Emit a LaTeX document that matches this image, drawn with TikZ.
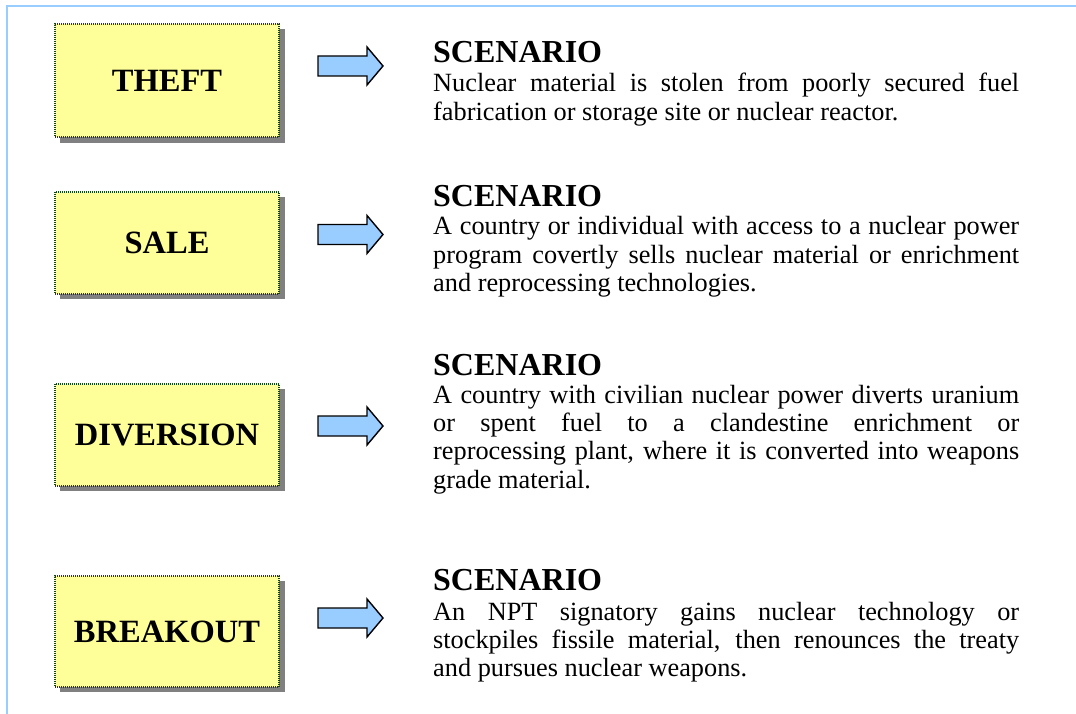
\documentclass[tikz,border=0pt]{standalone}
\usepackage{fontspec}
\setmainfont{Liberation Serif}
\definecolor{frameblue}{RGB}{153,204,255}
\definecolor{boxyellow}{RGB}{255,255,153}
\definecolor{boxgreen}{RGB}{20,70,20}
\definecolor{shadowgray}{RGB}{128,128,128}
\definecolor{arrowblue}{RGB}{153,204,255}
\newcommand\scnarrow[1]{%
  \draw[arrowshape] (318,#1-10) -- (367,#1-10) -- (367,#1-19) -- (383,#1)
    -- (367,#1+19) -- (367,#1+10) -- (318,#1+10) -- cycle;}
\begin{document}
\hyphenpenalty=10000
\exhyphenpenalty=10000
\tolerance=10000
\begin{tikzpicture}[x=1pt,y=-1pt,
  labelbox/.style={draw=boxgreen, line width=1.3pt, dash pattern=on 1pt off 1pt,
    fill=boxyellow, minimum width=224pt, inner sep=0pt,
    font=\bfseries\fontsize{32.5}{36}\selectfont},
  arrowshape/.style={draw=black, fill=arrowblue, line width=1.4pt, line join=miter},
  headtext/.style={inner sep=0pt, anchor=base west, font=\bfseries\fontsize{32}{36}\selectfont},
  bodytext/.style={inner sep=0pt, anchor=base west, text width=586pt, align=justify,
    font=\fontsize{26.3}{28.4}\selectfont}]
\useasboundingbox (0,0) rectangle (1076,714);
\fill[white] (0,0) rectangle (1076,714);
\draw[frameblue, line width=2pt] (7,714) -- (7,6) -- (1076,6);

\fill[shadowgray] (60,29) rectangle (285,143);
\node[labelbox, minimum height=113pt] (theft) at (167,80.5) {THEFT};
\fill[shadowgray] (60,197) rectangle (285,299);
\node[labelbox, minimum height=102pt] (sale) at (167,243) {SALE};
\fill[shadowgray] (60,389) rectangle (285,491);
\node[labelbox, minimum height=102pt] (diversion) at (167,435) {DIVERSION};
\fill[shadowgray] (60,581) rectangle (285,692);
\node[labelbox, minimum height=111pt] (breakout) at (167,631.5) {BREAKOUT};

\scnarrow{66}
\scnarrow{234.5}
\scnarrow{426}
\scnarrow{618}

\node[headtext] (h1) at (433,63) {SCENARIO};
\node[bodytext] (b1) at (433,92) {Nuclear material is stolen from poorly secured fuel\linebreak fabrication or storage site or nuclear reactor.};

\node[headtext] (h2) at (433,207) {SCENARIO};
\node[bodytext] (b2) at (433,235) {A country or individual with access to a nuclear power\linebreak program covertly sells nuclear material or enrichment\linebreak and reprocessing technologies.};

\node[headtext] (h3) at (433,375) {SCENARIO};
\node[bodytext] (b3) at (433,403) {A country with civilian nuclear power diverts uranium\linebreak or spent fuel to a clandestine enrichment or\linebreak reprocessing plant, where it is converted into weapons\linebreak grade material.};

\node[headtext] (h4) at (433,590) {SCENARIO};
\begin{scope}
\clip (0,0) rectangle (1076,683);
\node[bodytext] (b4) at (433,620) {An NPT signatory gains nuclear technology or\linebreak stockpiles fissile material, then renounces the treaty\linebreak and pursues nuclear weapons.};
\end{scope}
\end{tikzpicture}
\end{document}
